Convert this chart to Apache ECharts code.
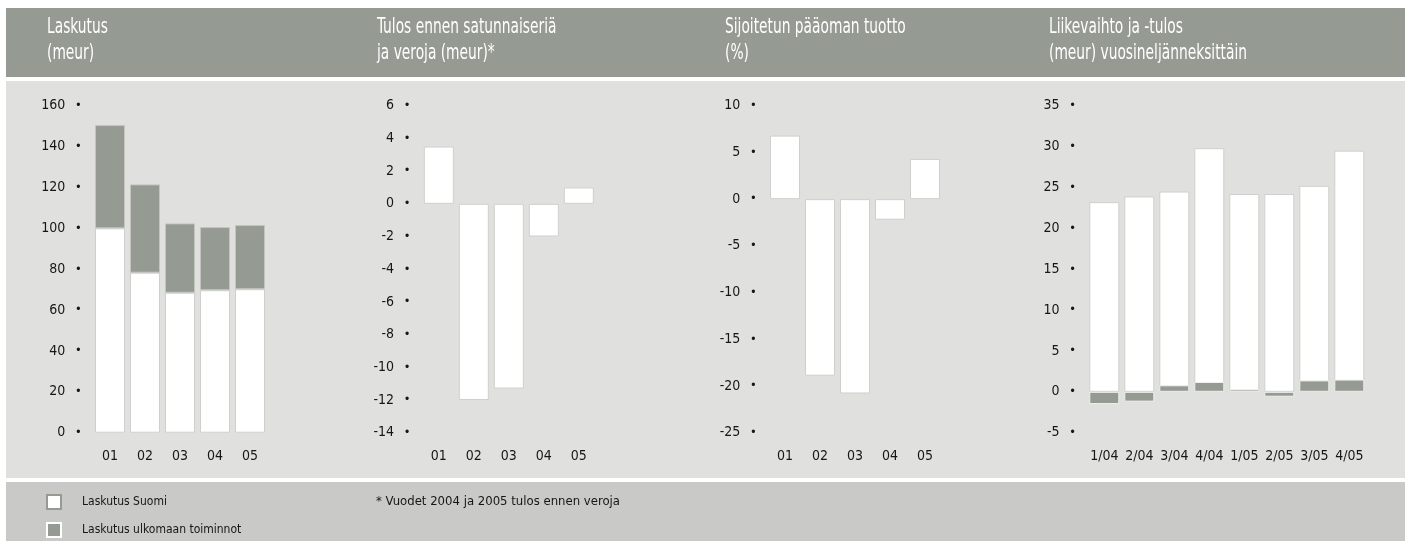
<!DOCTYPE html>
<html>
<head>
<meta charset="utf-8">
<script src="https://cdn.jsdelivr.net/npm/echarts@6/dist/echarts.min.js"></script>
<style>
  body { margin: 0; background: #fff; }
  #main { width: 1411px; height: 541px; }
</style>
</head>
<body>
<div id="main"></div>
<script>
const years = ['01', '02', '03', '04', '05'];
const laskutusSuomi = [100, 78.3, 68.5, 69.7, 70.2];
const laskutusUlkomaa = [50.5, 43.2, 33.9, 30.9, 31.4];
const tulos = [3.5, -12.0, -11.3, -2.0, 1.0];
const tuotto = [6.8, -18.9, -20.8, -2.2, 4.3];
const quarters = ['1/04', '2/04', '3/04', '4/04', '1/05', '2/05', '3/05', '4/05'];
const liikevaihto = [23.2, 23.9, 24.5, 29.8, 24.2, 24.2, 25.2, 29.5];
const liiketulos = [-1.5, -1.2, 0.8, 1.2, 0.3, -0.6, 1.4, 1.5];

const FONT = '"DejaVu Sans Condensed", "DejaVu Sans", sans-serif';
const GREY = '#959a92';
const TXT = '#161616';

// white and grey bar styles
const whiteBar = { color: '#ffffff', borderColor: '#cfd0cd', borderWidth: 1 };
const greyBar = { color: GREY, borderColor: '#c2c5c0', borderWidth: 1 };

function yAxis(idx, min, max, step) {
  return {
    type: 'value', gridIndex: idx, min: min, max: max, interval: step,
    axisLine: { show: false }, axisTick: { show: false }, splitLine: { show: false },
    axisLabel: {
      margin: 12,
      formatter: v => '{n|' + v + '}{d|•}',
      rich: {
        n: { fontFamily: FONT, fontSize: 14, color: TXT, padding: [0, 11, 0, 0] },
        d: { fontSize: 12, color: TXT }
      }
    }
  };
}

function xAxis(idx, cats) {
  return {
    type: 'category', gridIndex: idx, data: cats,
    axisLine: { show: false }, axisTick: { show: false },
    axisLabel: { margin: 17, interval: 0, fontFamily: FONT, fontSize: 14, color: TXT }
  };
}

// header texts are squeezed horizontally like the narrow original face
function headText(x, lines) {
  return {
    type: 'text', x: x, y: 15, scaleX: 0.73,
    style: { text: lines, fill: '#fff', font: '21px ' + FONT, lineHeight: 26 }
  };
}

const chart = echarts.init(document.getElementById('main'));
chart.setOption({
  animation: false,
  graphic: [
    { type: 'rect', shape: { x: 6, y: 8, width: 1399, height: 69 }, style: { fill: GREY }, z: -10 },
    { type: 'rect', shape: { x: 6, y: 81, width: 1399, height: 397 }, style: { fill: '#e0e1df' }, z: -10 },
    { type: 'rect', shape: { x: 6, y: 482, width: 1399, height: 59 }, style: { fill: '#c9cac7' }, z: -10 },
    headText(47, 'Laskutus\n(meur)'),
    headText(377, 'Tulos ennen satunnaiseriä\nja veroja (meur)*'),
    headText(725, 'Sijoitetun pääoman tuotto\n(%)'),
    headText(1049, 'Liikevaihto ja -tulos\n(meur) vuosineljänneksittäin'),
    {
      type: 'text', x: 376, y: 495,
      style: { text: '* Vuodet 2004 ja 2005 tulos ennen veroja', fill: TXT, font: '13px ' + FONT }
    }
  ],
  legend: {
    orient: 'vertical', left: 46, top: 494, padding: 0,
    itemWidth: 14, itemHeight: 14, itemGap: 12,
    icon: 'rect',
    textStyle: { fontFamily: FONT, fontSize: 12, color: TXT, padding: [0, 0, 0, 16] },
    data: [
      { name: 'Laskutus Suomi', itemStyle: { color: '#fff', borderColor: GREY, borderWidth: 2 } },
      { name: 'Laskutus ulkomaan toiminnot', itemStyle: { color: GREY, borderColor: '#fff', borderWidth: 2 } }
    ]
  },
  grid: [
    { left: 92.5, top: 105.7, width: 175, height: 327 },
    { left: 421.3, top: 105.7, width: 175, height: 327 },
    { left: 767.5, top: 105.7, width: 175, height: 327 },
    { left: 1086.8, top: 105.7, width: 280, height: 327 }
  ],
  xAxis: [xAxis(0, years), xAxis(1, years), xAxis(2, years), xAxis(3, quarters)],
  yAxis: [yAxis(0, 0, 160, 20), yAxis(1, -14, 6, 2), yAxis(2, -25, 10, 5), yAxis(3, -5, 35, 5)],
  series: [
    { name: 'Laskutus Suomi', type: 'bar', stack: 'lask', xAxisIndex: 0, yAxisIndex: 0,
      barWidth: 30, itemStyle: whiteBar, data: laskutusSuomi },
    { name: 'Laskutus ulkomaan toiminnot', type: 'bar', stack: 'lask', xAxisIndex: 0, yAxisIndex: 0,
      barWidth: 30, itemStyle: greyBar, data: laskutusUlkomaa },
    { name: 'Tulos', type: 'bar', xAxisIndex: 1, yAxisIndex: 1,
      barWidth: 30, itemStyle: whiteBar, data: tulos },
    { name: 'Sijoitetun pääoman tuotto', type: 'bar', xAxisIndex: 2, yAxisIndex: 2,
      barWidth: 30, itemStyle: whiteBar, data: tuotto },
    { name: 'Liikevaihto', type: 'bar', xAxisIndex: 3, yAxisIndex: 3,
      barWidth: 30, barGap: '-100%', itemStyle: whiteBar, data: liikevaihto },
    { name: 'Liiketulos', type: 'bar', xAxisIndex: 3, yAxisIndex: 3,
      barWidth: 30, barGap: '-100%', itemStyle: { color: GREY, borderColor: '#eef0ec', borderWidth: 1 }, data: liiketulos }
  ]
});
</script>
</body>
</html>
